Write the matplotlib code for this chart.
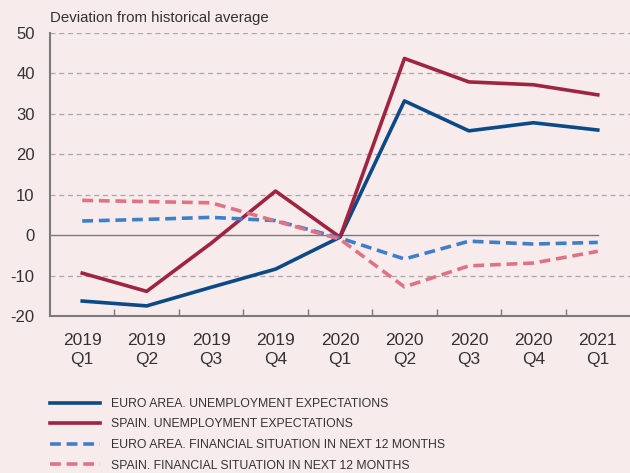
import matplotlib
matplotlib.use("Agg")
import matplotlib.pyplot as plt
from matplotlib import font_manager
import numpy as np

# quarters on the x axis
quarters = ["2019\nQ1", "2019\nQ2", "2019\nQ3", "2019\nQ4", "2020\nQ1",
            "2020\nQ2", "2020\nQ3", "2020\nQ4", "2021\nQ1"]

euro_unemp = [-16.3, -17.5, -12.9, -8.4, -0.5, 33.2, 25.8, 27.8, 26.0]
spain_unemp = [-9.4, -13.9, -2.0, 10.9, -0.5, 43.7, 37.9, 37.2, 34.7]
euro_fin = [3.5, 3.9, 4.4, 3.6, -0.7, -5.9, -1.5, -2.2, -1.8]
spain_fin = [8.6, 8.3, 8.0, 3.5, -1.0, -12.8, -7.6, -6.9, -4.0]

labels = ["EURO AREA. UNEMPLOYMENT EXPECTATIONS",
          "SPAIN. UNEMPLOYMENT EXPECTATIONS",
          "EURO AREA. FINANCIAL SITUATION IN NEXT 12 MONTHS",
          "SPAIN. FINANCIAL SITUATION IN NEXT 12 MONTHS"]

bg = "#f7ebec"
grey = "#7a7a7a"
txt = "#333333"

plt.rcParams["font.family"] = ["Liberation Sans", "DejaVu Sans"]
plt.rcParams["axes.unicode_minus"] = False

# condensed font for the legend if there is one
names = {f.name for f in font_manager.fontManager.ttflist}
if "Liberation Sans Narrow" in names:
    leg_font = {"family": ["Liberation Sans Narrow", "DejaVu Sans"], "size": 11.5}
else:
    leg_font = {"family": ["Liberation Sans", "DejaVu Sans"], "size": 8.8}
fs = leg_font["size"] * 100 / 72   # legend font size in px

fig = plt.figure(figsize=(6.3, 4.73), dpi=100, facecolor=bg)
ax = fig.add_axes([50 / 630, 1 - 316 / 473, 1 - 50 / 630, (316 - 33) / 473])
ax.set_facecolor(bg)

x = np.arange(len(quarters))

# grid lines
for v in [-10, 10, 20, 30, 40, 50]:
    ax.axhline(v, color="#a8a8a8", lw=0.9, ls=(0, (4, 3)), zorder=1)
ax.plot([-0.5, x[-1]], [0, 0], color=grey, lw=1.0, zorder=1)

ax.plot(x, euro_unemp, color="#0b4a87", lw=2.6, label=labels[0], zorder=3)
ax.plot(x, spain_unemp, color="#9e2440", lw=2.6, label=labels[1], zorder=3)
ax.plot(x, euro_fin, color="#3f7fc8", lw=2.6, ls=(0, (3, 1.6)), label=labels[2], zorder=3)
ax.plot(x, spain_fin, color="#e07383", lw=2.6, ls=(0, (3, 1.6)), label=labels[3], zorder=3)

ax.set_xlim(-0.5, len(quarters) - 0.5)
ax.set_ylim(-20, 50)

ax.set_yticks([-20, -10, 0, 10, 20, 30, 40, 50])
ax.tick_params(axis="y", length=0, labelsize=12, colors=txt, pad=11)

# boundary ticks (no labels) and centred category labels
ax.set_xticks(x[:-1] + 0.5)
ax.set_xticklabels([])
ax.tick_params(axis="x", which="major", direction="in", length=5, color=grey, width=1)
ax.set_xticks(x, minor=True)
ax.set_xticklabels(quarters, minor=True, fontsize=12.5, color=txt, linespacing=1.4)
ax.tick_params(axis="x", which="minor", length=0, pad=12)

for s in ["top", "right"]:
    ax.spines[s].set_visible(False)
for s in ["left", "bottom"]:
    ax.spines[s].set_color(grey)
    ax.spines[s].set_linewidth(1.5)

fig.text(50 / 630, 1 - 18 / 473, "Deviation from historical average",
         fontsize=10.8, color=txt, va="center", ha="left")

leg = fig.legend(loc="upper left", bbox_to_anchor=(45.5 / 630, 1 - 393 / 473),
                 frameon=False, handlelength=50 / fs, handletextpad=11 / fs,
                 labelspacing=0.7, borderaxespad=0, prop=leg_font)
for t in leg.get_texts():
    t.set_color(txt)

fig.savefig("out.png", dpi=100, facecolor=bg)
